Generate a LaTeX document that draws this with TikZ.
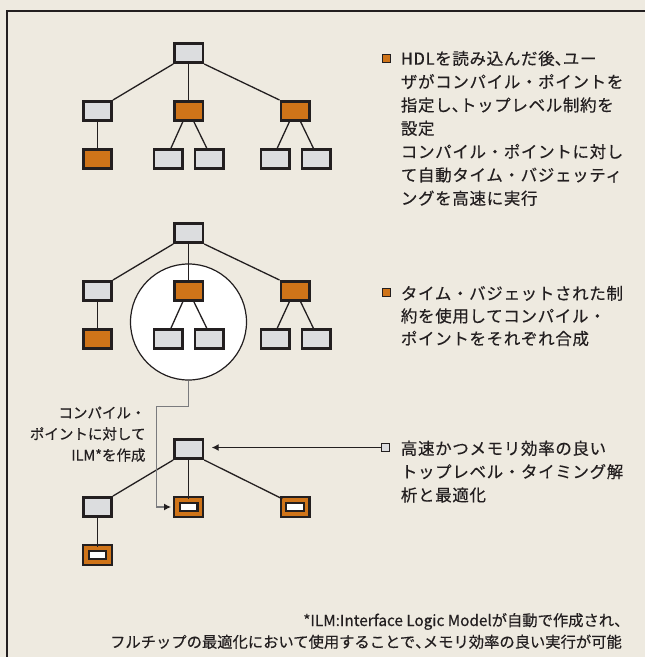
\documentclass[tikz,border=0pt]{standalone}
\usepackage{fontspec}
\setmainfont{Noto Sans CJK JP}
\newfontfamily\jpls[LetterSpace=4,FakeBold=0.4]{Noto Sans CJK JP}
\newfontfamily\jpsm[FakeBold=0.4]{Noto Sans CJK JP}
\usetikzlibrary{arrows.meta}
\definecolor{bg}{HTML}{EEEAE0}
\definecolor{boxgray}{HTML}{DCDDDF}
\definecolor{orng}{HTML}{CF7419}
\definecolor{ink}{HTML}{231F20}
\definecolor{wire}{HTML}{7A7B7E}
\newcommand\hw[1]{{\addfontfeatures{RawFeature=+halt}#1}}
\tikzset{
  gbox/.style={draw=ink, line width=2.6bp, fill=boxgray, minimum width=28.4bp, minimum height=19.4bp, inner sep=0, rectangle},
  obox/.style={gbox, fill=orng},
  ilm/.style={draw=ink, line width=2.2bp, double=orng, double distance=3.4bp, fill=white, minimum width=23.2bp, minimum height=14.2bp, inner sep=0, rectangle},
  edge/.style={draw=ink, line width=1.3bp},
  txt/.style={anchor=base west, inner sep=0, text=ink, font=\jpls\fontsize{16.5bp}{20bp}\selectfont},
  lbl/.style={anchor=base east, inner sep=0, text=ink, font=\jpsm\fontsize{14.5bp}{18bp}\selectfont},
  foot/.style={anchor=base east, inner sep=0, text=ink, font=\jpsm\fontsize{15.3bp}{18bp}\selectfont},
  sq/.style={draw=ink, line width=1.1bp, minimum size=8bp, inner sep=0, rectangle},
}
\begin{document}
\begin{tikzpicture}[x=1bp, y=-1bp]
\useasboundingbox (0,0) rectangle (645,657);
\fill[bg] (0,0) rectangle (645,657);
\coordinate (fr1) at (645,11);
\coordinate (fr2) at (7,11);
\coordinate (fr3) at (7,657);
\draw[ink, line width=1.6bp] (fr1) -- (fr2) -- (fr3);

% ---- tree 1
\node[gbox] (t1a) at (188.7,53) {};
\node[gbox] (t1b) at (97.5,111) {};
\node[obox] (t1c) at (188.7,111) {};
\node[obox] (t1d) at (295,111) {};
\node[obox] (t1e) at (97.5,159) {};
\node[gbox] (t1f) at (168,159) {};
\node[gbox] (t1g) at (209,159) {};
\node[gbox] (t1h) at (275,159) {};
\node[gbox] (t1i) at (316,159) {};
\draw[edge] (t1a.south west) -- (t1b.north east);
\draw[edge] (t1a.south) -- (t1c.north);
\draw[edge] (t1a.south east) -- (t1d.north west);
\draw[edge] (t1b.south) -- (t1e.north);
\draw[edge] ([xshift=-6bp]t1c.south) -- ([xshift=3bp]t1f.north);
\draw[edge] ([xshift=5.3bp]t1c.south) -- ([xshift=-2.3bp]t1g.north);
\draw[edge] ([xshift=-5.7bp]t1d.south) -- ([xshift=2.3bp]t1h.north);
\draw[edge] ([xshift=5.7bp]t1d.south) -- ([xshift=-2.7bp]t1i.north);

% ---- tree 2
\node[circle, draw=ink, line width=1.2bp, fill=white, minimum size=116bp, inner sep=0] (circ) at (188.5,322) {};
\node[gbox] (t2a) at (188.7,233) {};
\node[gbox] (t2b) at (97.5,291) {};
\node[obox] (t2c) at (188.7,291) {};
\node[obox] (t2d) at (295,291) {};
\node[obox] (t2e) at (97.5,339) {};
\node[gbox] (t2f) at (168,339) {};
\node[gbox] (t2g) at (209,339) {};
\node[gbox] (t2h) at (275,339) {};
\node[gbox] (t2i) at (316,339) {};
\draw[edge] (t2a.south west) -- (t2b.north east);
\draw[edge] (t2a.south) -- (t2c.north);
\draw[edge] (t2a.south east) -- (t2d.north west);
\draw[edge] (t2b.south) -- (t2e.north);
\draw[edge] ([xshift=-6bp]t2c.south) -- ([xshift=3bp]t2f.north);
\draw[edge] ([xshift=5.3bp]t2c.south) -- ([xshift=-2.3bp]t2g.north);
\draw[edge] ([xshift=-5.7bp]t2d.south) -- ([xshift=2.3bp]t2h.north);
\draw[edge] ([xshift=5.7bp]t2d.south) -- ([xshift=-2.7bp]t2i.north);

% ---- tree 3
\node[gbox] (t3a) at (188.7,449) {};
\node[gbox] (t3b) at (97.5,507) {};
\node[ilm] (t3c) at (188.7,507) {};
\node[ilm] (t3d) at (295,507) {};
\node[ilm] (t3e) at (97.5,555) {};
\draw[edge] (t3a.south west) -- (t3b.north east);
\draw[edge] (t3a.south) -- (t3c.north);
\draw[edge] (t3a.south east) -- (t3d.north west);
\draw[edge] (t3b.south) -- (t3e.north);

% ---- routed connector from circle
\coordinate (k1) at (156.7,406.7);
\draw[wire, line width=1.2bp, -{Latex[length=7bp,width=7bp,color=ink]}, shorten >=5bp]
  (circ.south) |- (k1) |- (t3c.west);

% ---- bullets
\node[sq, fill=orng] (bu1) at (386.5,58.4) {};
\node[sq, fill=orng] (bu2) at (386.5,292.8) {};
\node[sq, fill=boxgray] (bu3) at (385.5,447.5) {};
\draw[edge, line width=1.2bp, -{Latex[length=7bp,width=7bp]}, shorten >=7.5bp]
  (bu3.west) -- (bu3.west -| t3a.east);

% ---- text block 1
\foreach \s [count=\i from 0] in {HDLを読み込んだ後\hw{、}ユー,ザがコンパイル・ポイントを,指定し\hw{、}トップレベル制約を,設定,コンパイル・ポイントに対し,て自動タイム・バジェッティ,ングを高速に実行}
  \node[txt] (a\i) at (400.7,{64.7+23.3*\i}) {\s};

% ---- text block 2
\foreach \s [count=\i from 0] in {タイム・バジェットされた制,約を使用してコンパイル・,ポイントをそれぞれ合成}
  \node[txt] (b\i) at (400.7,{299.6+22.6*\i}) {\s};

% ---- text block 3
\foreach \s [count=\i from 0] in {高速かつメモリ効率の良い,トップレベル・タイミング解,析と最適化}
  \node[txt] (c\i) at (400.7,{454.6+23.3*\i}) {\s};

% ---- left label
\foreach \s [count=\i from 0] in {コンパイル・,ポイントに対して,ILM*を作成}
  \node[lbl] (d\i) at (145.7,{418.2+21.2*\i}) {\s};

% ---- footnote
\node[foot] (f0) at (622,626) {*ILM:Interface Logic Modelが自動で作成され\hw{、}};
\node[foot] (f1) at (622,647.6) {フルチップの最適化において使用することで\hw{、}メモリ効率の良い実行が可能};
\end{tikzpicture}
\end{document}
